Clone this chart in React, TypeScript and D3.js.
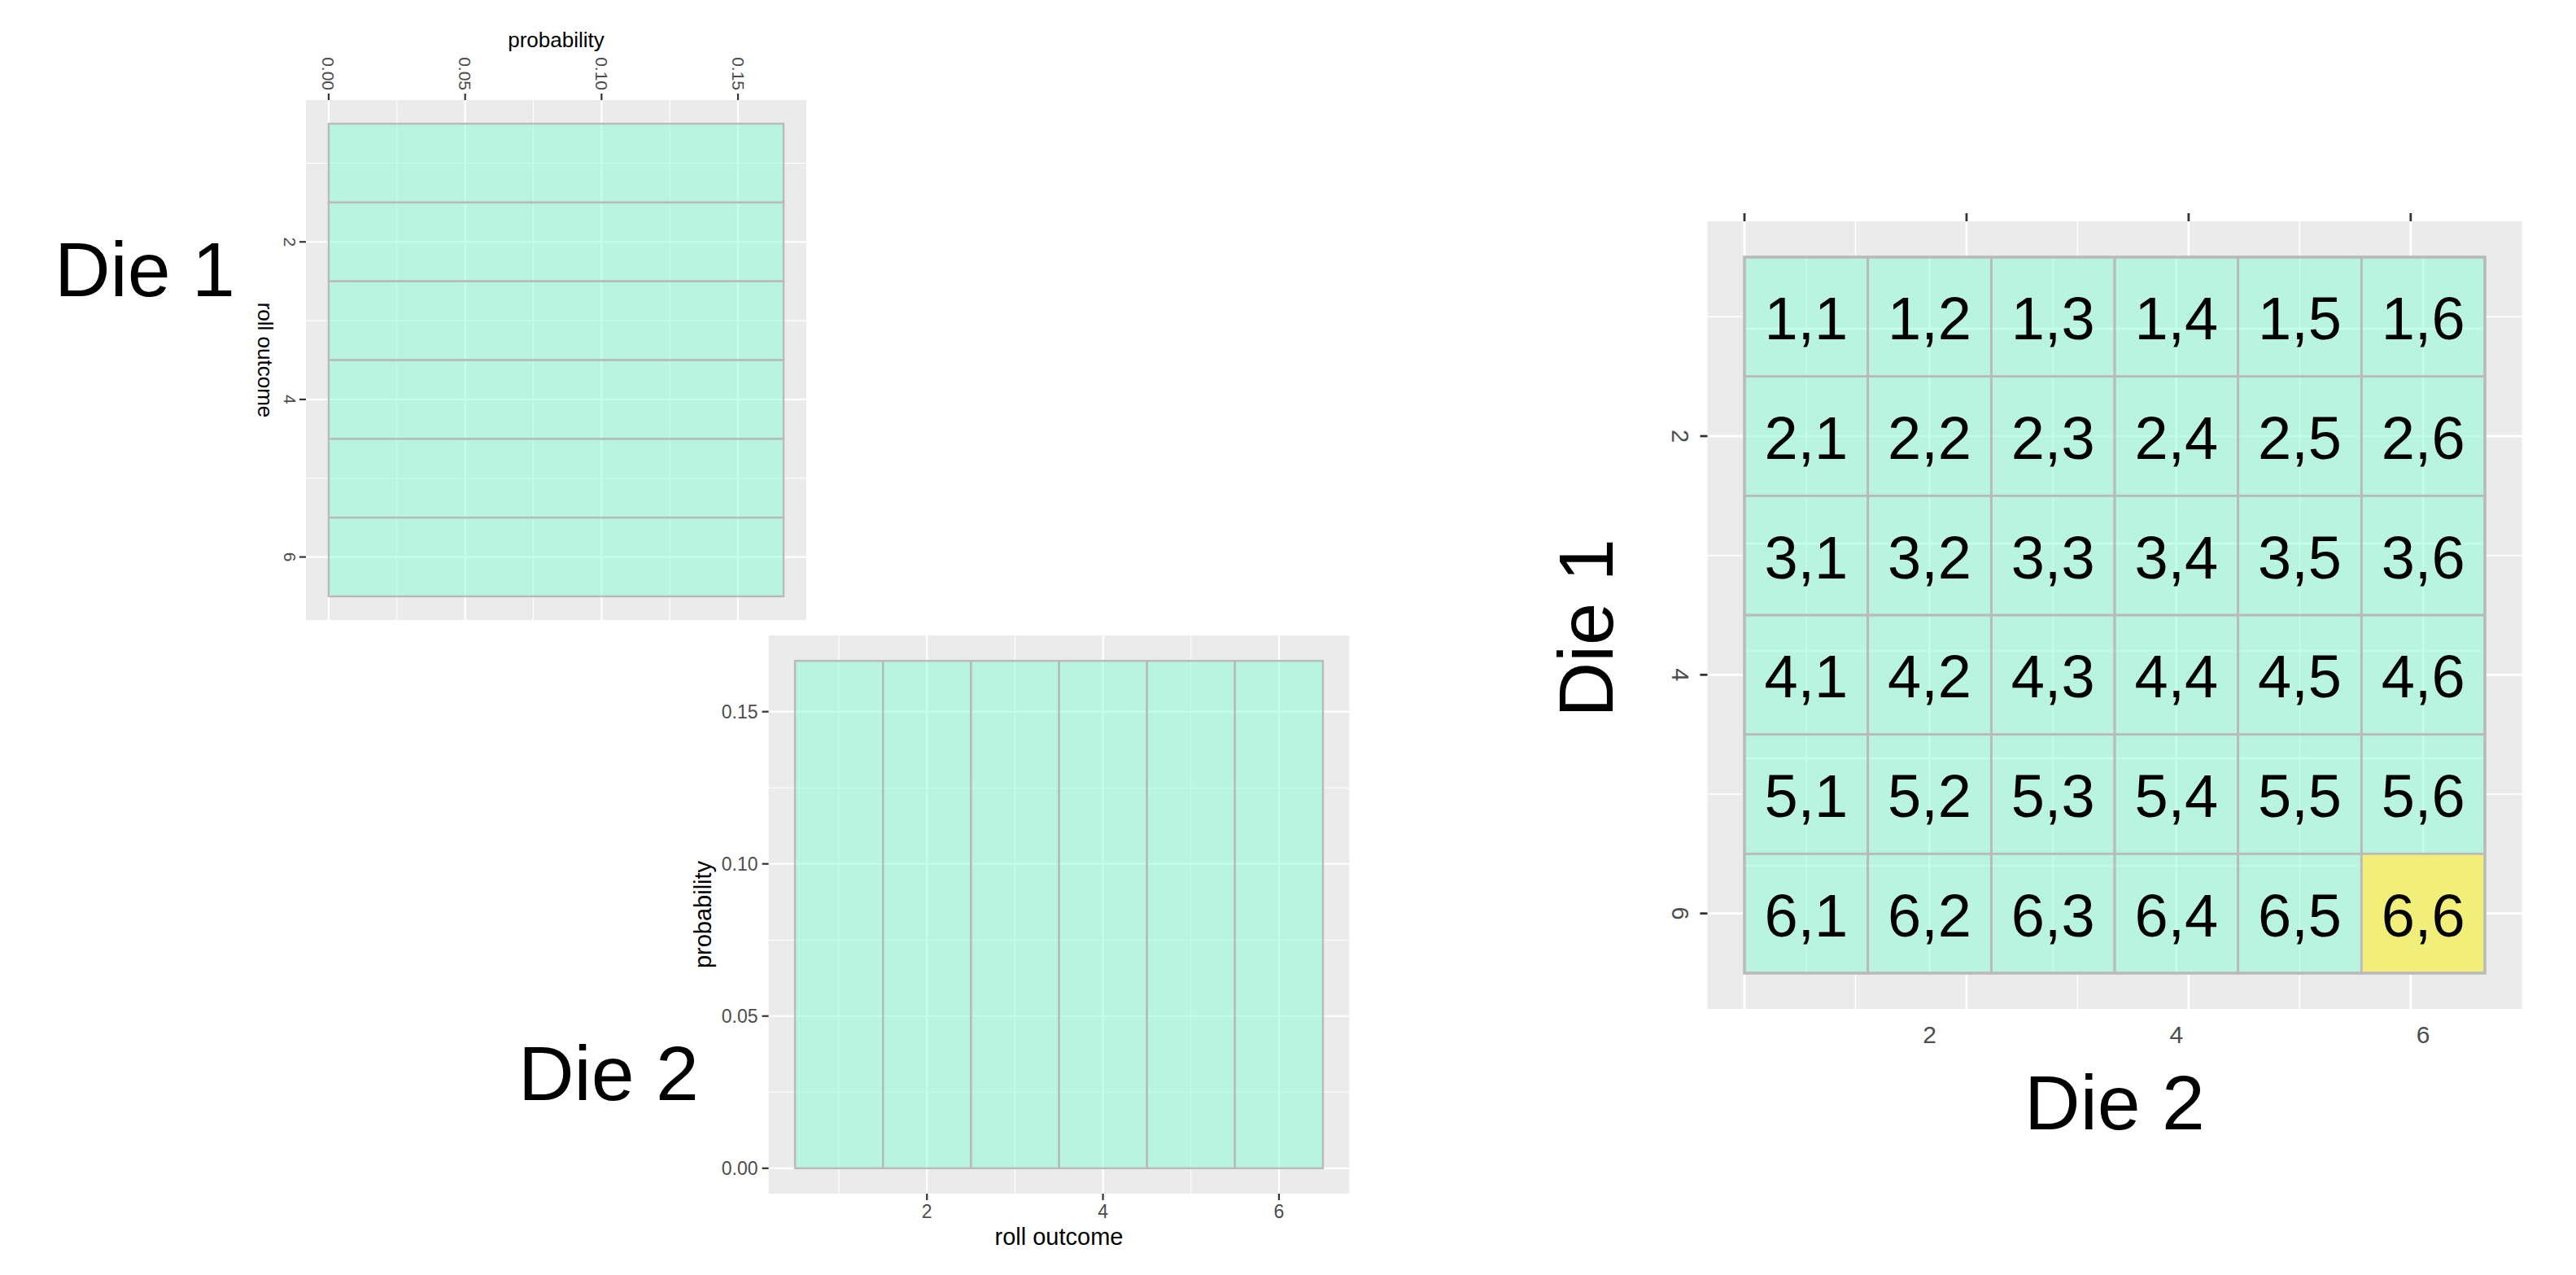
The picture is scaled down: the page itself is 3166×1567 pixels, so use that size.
import React from 'react';
import * as d3 from 'd3';

// ---------- data ----------
const faces = [1, 2, 3, 4, 5, 6];
const probability = [0.1667, 0.1667, 0.1667, 0.1667, 0.1667, 0.1667];
const probBreaks = [0, 0.05, 0.1, 0.15];
const probMinorBreaks = [0.025, 0.075, 0.125];
const faceBreaks = [2, 4, 6];
const faceMinorBreaks = [1, 3, 5];
const die1Values = [1, 2, 3, 4, 5, 6];
const die2Values = [1, 2, 3, 4, 5, 6];
const highlighted = ['6,6'];

// ---------- styles ----------
const FONT = "'Liberation Sans', Arial, Helvetica, sans-serif";
const BG = '#EBEBEB';
const FILL = 'rgba(127,255,212,0.47)';
const YELLOW = '#F1EF7A';
const STROKE = '#BABABA';
const TICK = '#333333';
const TICKTXT = '#4D4D4D';

const fmt = d3.format('.2f');
const probMax = d3.max(probability) as number;
const probExp = probMax * 0.05;
const faceLo = (d3.min(faces) as number) - 0.5;
const faceHi = (d3.max(faces) as number) + 0.5;
const faceExp = (faceHi - faceLo) * 0.05;

export default function App() {
  // Panel 1 (Die 1 marginal, horizontal bars)
  const p1 = { l: 376, r: 991, t: 123, b: 762 };
  const x1 = d3.scaleLinear().domain([-probExp, probMax + probExp]).range([p1.l, p1.r]);
  const y1 = d3.scaleLinear().domain([faceLo - faceExp, faceHi + faceExp]).range([p1.t, p1.b]);

  // Panel 2 (Die 2 marginal, vertical bars)
  const p2 = { l: 944.6, r: 1658.4, t: 781, b: 1467 };
  const x2 = d3.scaleLinear().domain([faceLo - faceExp, faceHi + faceExp]).range([p2.l, p2.r]);
  const y2 = d3.scaleLinear().domain([-probExp, probMax + probExp]).range([p2.b, p2.t]);

  // Panel 3 (joint)
  const p3 = { l: 2098.5, r: 3099.5, t: 272, b: 1240 };
  const x3 = d3.scaleLinear().domain([-probExp, probMax + probExp]).range([p3.l, p3.r]);
  const y3 = d3.scaleLinear().domain([faceLo - faceExp, faceHi + faceExp]).range([p3.t, p3.b]);
  const xd = d3.scaleLinear().domain([faceLo, faceHi]).range([x3(0), x3(probMax)]);
  const yp = d3.scaleLinear().domain([0, probMax]).range([y3(faceHi), y3(faceLo)]);

  const tiles: { r: number; c: number; label: string }[] = [];
  die1Values.forEach((r) => die2Values.forEach((c) => tiles.push({ r, c, label: `${r},${c}` })));

  return (
    <svg
      width={3166}
      height={1567}
      style={{ position: 'absolute', left: 0, top: 0, background: '#fff' }}
      fontFamily={FONT}
    >
      <rect x={0} y={0} width={3166} height={1567} fill="#fff" />

      {/* ===== Panel 1 ===== */}
      <rect x={p1.l} y={p1.t} width={p1.r - p1.l} height={p1.b - p1.t} fill={BG} />
      {probMinorBreaks.map((v) => (
        <line key={'p1vm' + v} x1={x1(v)} x2={x1(v)} y1={p1.t} y2={p1.b} stroke="#fff" strokeWidth={1.1} />
      ))}
      {faceMinorBreaks.map((v) => (
        <line key={'p1hm' + v} x1={p1.l} x2={p1.r} y1={y1(v)} y2={y1(v)} stroke="#fff" strokeWidth={1.1} />
      ))}
      {probBreaks.map((v) => (
        <line key={'p1v' + v} x1={x1(v)} x2={x1(v)} y1={p1.t} y2={p1.b} stroke="#fff" strokeWidth={2.2} />
      ))}
      {faceBreaks.map((v) => (
        <line key={'p1h' + v} x1={p1.l} x2={p1.r} y1={y1(v)} y2={y1(v)} stroke="#fff" strokeWidth={2.2} />
      ))}
      {faces.map((f, i) => (
        <rect
          key={'p1b' + f}
          x={x1(0)}
          y={y1(f - 0.5)}
          width={x1(probability[i]) - x1(0)}
          height={y1(f + 0.5) - y1(f - 0.5)}
          fill={FILL}
          stroke={STROKE}
          strokeWidth={2.4}
        />
      ))}
      {probBreaks.map((v) => (
        <g key={'p1t' + v}>
          <line x1={x1(v)} x2={x1(v)} y1={p1.t - 8} y2={p1.t} stroke={TICK} strokeWidth={2.2} />
          <text
            transform={`translate(${x1(v)},${p1.t - 12}) rotate(90)`}
            textAnchor="end"
            dominantBaseline="central"
            fontSize={21}
            fill={TICKTXT}
          >
            {fmt(v)}
          </text>
        </g>
      ))}
      {faceBreaks.map((v) => (
        <g key={'p1l' + v}>
          <line x1={p1.l - 8} x2={p1.l} y1={y1(v)} y2={y1(v)} stroke={TICK} strokeWidth={2.2} />
          <text transform={`translate(${p1.l - 27},${y1(v)}) rotate(90)`} textAnchor="middle" fontSize={21} fill={TICKTXT}>
            {v}
          </text>
        </g>
      ))}
      <text x={(p1.l + p1.r) / 2} y={58} textAnchor="middle" fontSize={26} fill="#000">
        probability
      </text>
      <text transform={`translate(317,${(p1.t + p1.b) / 2}) rotate(90)`} textAnchor="middle" fontSize={26} fill="#000">
        roll outcome
      </text>
      <text x={67} y={364} fontSize={95} fill="#000">
        Die 1
      </text>

      {/* ===== Panel 2 ===== */}
      <rect x={p2.l} y={p2.t} width={p2.r - p2.l} height={p2.b - p2.t} fill={BG} />
      {faceMinorBreaks.map((v) => (
        <line key={'p2vm' + v} x1={x2(v)} x2={x2(v)} y1={p2.t} y2={p2.b} stroke="#fff" strokeWidth={1.1} />
      ))}
      {probMinorBreaks.map((v) => (
        <line key={'p2hm' + v} x1={p2.l} x2={p2.r} y1={y2(v)} y2={y2(v)} stroke="#fff" strokeWidth={1.1} />
      ))}
      {faceBreaks.map((v) => (
        <line key={'p2v' + v} x1={x2(v)} x2={x2(v)} y1={p2.t} y2={p2.b} stroke="#fff" strokeWidth={2.2} />
      ))}
      {probBreaks.map((v) => (
        <line key={'p2h' + v} x1={p2.l} x2={p2.r} y1={y2(v)} y2={y2(v)} stroke="#fff" strokeWidth={2.2} />
      ))}
      {faces.map((f, i) => (
        <rect
          key={'p2b' + f}
          x={x2(f - 0.5)}
          y={y2(probability[i])}
          width={x2(f + 0.5) - x2(f - 0.5)}
          height={y2(0) - y2(probability[i])}
          fill={FILL}
          stroke={STROKE}
          strokeWidth={2.4}
        />
      ))}
      {probBreaks.map((v) => (
        <g key={'p2l' + v}>
          <line x1={p2.l - 8} x2={p2.l} y1={y2(v)} y2={y2(v)} stroke={TICK} strokeWidth={2.2} />
          <text x={p2.l - 13} y={y2(v)} textAnchor="end" dominantBaseline="central" fontSize={23} fill={TICKTXT}>
            {fmt(v)}
          </text>
        </g>
      ))}
      {faceBreaks.map((v) => (
        <g key={'p2t' + v}>
          <line x1={x2(v)} x2={x2(v)} y1={p2.b} y2={p2.b + 8} stroke={TICK} strokeWidth={2.2} />
          <text x={x2(v)} y={1497} textAnchor="middle" fontSize={23} fill={TICKTXT}>
            {v}
          </text>
        </g>
      ))}
      <text x={(p2.l + p2.r) / 2} y={1530} textAnchor="middle" fontSize={29} fill="#000">
        roll outcome
      </text>
      <text transform={`translate(874,${(p2.t + p2.b) / 2}) rotate(-90)`} textAnchor="middle" fontSize={29} fill="#000">
        probability
      </text>
      <text x={637} y={1352} fontSize={95} fill="#000">
        Die 2
      </text>

      {/* ===== Panel 3 ===== */}
      <rect x={p3.l} y={p3.t} width={p3.r - p3.l} height={p3.b - p3.t} fill={BG} />
      {probMinorBreaks.map((v) => (
        <line key={'p3vm' + v} x1={x3(v)} x2={x3(v)} y1={p3.t} y2={p3.b} stroke="#fff" strokeWidth={1.5} />
      ))}
      {faceMinorBreaks.map((v) => (
        <line key={'p3hm' + v} x1={p3.l} x2={p3.r} y1={y3(v)} y2={y3(v)} stroke="#fff" strokeWidth={1.5} />
      ))}
      {probBreaks.map((v) => (
        <line key={'p3v' + v} x1={x3(v)} x2={x3(v)} y1={p3.t} y2={p3.b} stroke="#fff" strokeWidth={2.8} />
      ))}
      {faceBreaks.map((v) => (
        <line key={'p3h' + v} x1={p3.l} x2={p3.r} y1={y3(v)} y2={y3(v)} stroke="#fff" strokeWidth={2.8} />
      ))}
      {probBreaks.map((v) => (
        <line key={'p3t' + v} x1={x3(v)} x2={x3(v)} y1={p3.t - 10} y2={p3.t} stroke={TICK} strokeWidth={2.8} />
      ))}
      {faceBreaks.map((v) => (
        <g key={'p3l' + v}>
          <line x1={p3.l - 9} x2={p3.l} y1={y3(v)} y2={y3(v)} stroke={TICK} strokeWidth={2.8} />
          <text transform={`translate(${p3.l - 44},${y3(v)}) rotate(90)`} textAnchor="middle" fontSize={29} fill={TICKTXT}>
            {v}
          </text>
        </g>
      ))}
      {/* tile area with its own grid */}
      <rect x={xd(faceLo)} y={y3(faceLo)} width={xd(faceHi) - xd(faceLo)} height={y3(faceHi) - y3(faceLo)} fill={BG} />
      {faceMinorBreaks.map((v) => (
        <line key={'p3ivm' + v} x1={xd(v)} x2={xd(v)} y1={y3(faceLo)} y2={y3(faceHi)} stroke="#fff" strokeWidth={1.4} />
      ))}
      {faceBreaks.map((v) => (
        <line key={'p3iv' + v} x1={xd(v)} x2={xd(v)} y1={y3(faceLo)} y2={y3(faceHi)} stroke="#fff" strokeWidth={2.6} />
      ))}
      {probMinorBreaks.map((v) => (
        <line key={'p3ihm' + v} x1={xd(faceLo)} x2={xd(faceHi)} y1={yp(v)} y2={yp(v)} stroke="#fff" strokeWidth={1.4} />
      ))}
      {probBreaks.map((v) => (
        <line key={'p3ih' + v} x1={xd(faceLo)} x2={xd(faceHi)} y1={yp(v)} y2={yp(v)} stroke="#fff" strokeWidth={2.6} />
      ))}
      {tiles.map((t) => (
        <rect
          key={'tile' + t.label}
          x={xd(t.c - 0.5)}
          y={y3(t.r - 0.5)}
          width={xd(t.c + 0.5) - xd(t.c - 0.5)}
          height={y3(t.r + 0.5) - y3(t.r - 0.5)}
          fill={highlighted.includes(t.label) ? YELLOW : FILL}
          stroke={STROKE}
          strokeWidth={2.8}
        />
      ))}
      <rect
        x={xd(faceLo)}
        y={y3(faceLo)}
        width={xd(faceHi) - xd(faceLo)}
        height={y3(faceHi) - y3(faceLo)}
        fill="none"
        stroke={STROKE}
        strokeWidth={3.4}
      />
      {tiles.map((t) => (
        <text key={'lab' + t.label} x={xd(t.c)} y={y3(t.r)} dy="0.38em" textAnchor="middle" fontSize={74} fill="#000">
          {t.label}
        </text>
      ))}
      {faceBreaks.map((v) => (
        <text key={'p3b' + v} x={xd(v)} y={1282} textAnchor="middle" fontSize={30} fill={TICKTXT}>
          {v}
        </text>
      ))}
      <text x={(p3.l + p3.r) / 2} y={1388} textAnchor="middle" fontSize={95} fill="#000">
        Die 2
      </text>
      <text transform={`translate(1982,772) rotate(-90)`} textAnchor="middle" fontSize={94} fill="#000">
        Die 1
      </text>
    </svg>
  );
}
